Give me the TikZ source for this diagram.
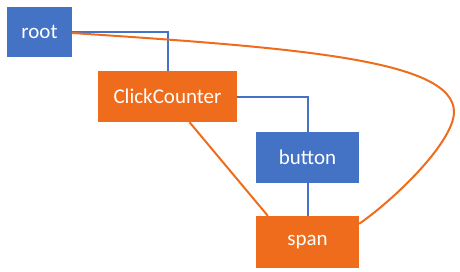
\documentclass[tikz,border=0pt]{standalone}
\usepackage{fontspec}
\setmainfont{Carlito}
\usetikzlibrary{calc}
\definecolor{nblue}{HTML}{4472C4}
\definecolor{norange}{HTML}{EF6C1C}
\begin{document}
\begin{tikzpicture}[x=1pt,y=-1pt,
  box/.style={rectangle, inner sep=0pt, text=white, font=\fontsize{21}{24}\selectfont},
  bluebox/.style={box, fill=nblue},
  orangebox/.style={box, fill=norange},
  blueline/.style={draw=nblue, line width=2pt},
  orangeline/.style={draw=norange, line width=2pt}]
\useasboundingbox (0,0) rectangle (460,271);
\node[bluebox, minimum width=65pt, minimum height=50pt] (root) at (39.5,32) {root};
\node[orangebox, minimum width=139pt, minimum height=51pt] (cc) at (167.5,96.5) {ClickCounter};
\node[bluebox, minimum width=103pt, minimum height=51pt] (button) at (307.5,157.5) {button};
\node[orangebox, minimum width=103pt, minimum height=52pt] (span) at (307.5,242) {span};
\draw[blueline] (root.east) -| (cc.north);
\draw[blueline] (cc.east) -| (button.north);
\draw[blueline] (button.south) -- (span.north);
\draw[orangeline] ($(cc.south)+(22,0)$) -- ($(span.north west)+(12,0)$);
\coordinate (far) at (454,112);
\draw[orangeline] ($(root.east)+(0,1)$) .. controls (300,48) and (454,60) .. (far)
  .. controls (454,140) and (400,195) .. ($(span.north east)+(0,8)$);
\end{tikzpicture}
\end{document}
